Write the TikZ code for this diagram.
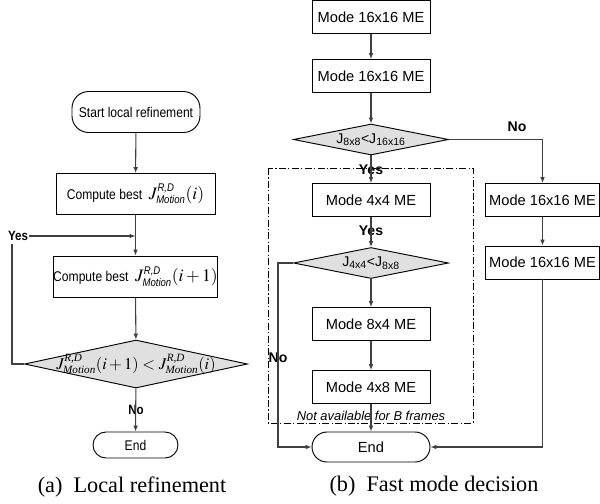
\documentclass[tikz,border=0pt]{standalone}
\usepackage{mathptmx}
\usepackage{fontspec}
\setmainfont{Liberation Serif}
\newfontfamily\arial{Liberation Sans}
\newfontfamily\arialn[FakeStretch=0.86]{Liberation Sans}
\newcommand{\scr}[1]{\mbox{\fontsize{9.5}{10}\selectfont\itshape #1}}
\newcommand{\jmot}[1]{J^{\scr{R,D}}_{\scr{Motion}}(#1)}
\usetikzlibrary{arrows.meta,shapes.geometric}

\begin{document}
\begin{tikzpicture}[x=0.3mm, y=-0.3mm,
    box/.style = {draw, rectangle, line width=0.8pt, inner sep=0pt, font=\arial\fontsize{12.5}{14}\selectfont},
    lbox/.style = {box, minimum width=47.7mm, minimum height=12.3mm, font=\arialn\fontsize{12}{14}\selectfont},
    rbox/.style = {box, minimum width=35.4mm, minimum height=9.9mm},
    term/.style = {box, rounded corners=4.5mm, minimum width=35.4mm, minimum height=9mm},
    test/.style = {draw, diamond, fill=black!12, line width=0.8pt, inner sep=0pt},
    flow/.style = {draw=black!75, line width=0.9pt, -{Latex[length=5pt,width=4pt]}},
    wire/.style = {draw=black!75, line width=0.9pt},
    lbl/.style = {font=\arial\bfseries\fontsize{12}{14}\selectfont, inner sep=1pt},
    note/.style = {font=\arial\itshape\fontsize{11}{13}\selectfont, inner sep=1pt},
    subcap/.style = {font=\fontsize{19}{22}\selectfont}
    ]
    \useasboundingbox (0,0) rectangle (600,503);

    % (a) local refinement
    \node[term, minimum width=38.4mm, minimum height=12.3mm, rounded corners=5mm, font=\arialn\fontsize{12}{14}\selectfont] (start) at (136,112) {Start local refinement};
    \node[lbox] (best1) at (135.5,194) {Compute best\ \ {\fontsize{15}{17}\selectfont$\jmot{i}$}};
    \node[lbox] (best2) at (135.5,276.5) {Compute best\ \ {\fontsize{15}{17}\selectfont$\jmot{i+1}$}};
    \node[test, minimum width=66.9mm, minimum height=14.4mm] (cmp) at (136,364) {};
    \node[font=\fontsize{14}{16}\selectfont, inner sep=0pt] (cmptxt) at (cmp) {$\jmot{i+1} < \jmot{i}$};
    \node[term, minimum width=25.5mm, minimum height=7.8mm, rounded corners=3.9mm, font=\arialn\fontsize{12}{14}\selectfont] (end1) at (135.5,445) {End};

    \node[lbl, font=\arialn\bfseries\fontsize{11.5}{13}\selectfont] (yes1) at (18,236) {Yes};
    \node[lbl, font=\arialn\bfseries\fontsize{11.5}{13}\selectfont] (no1) at (136,410) {No};
    \coordinate (back) at (12,244);

    \draw[flow] (start) -- (best1);
    \draw[flow] (best1) -- (best2);
    \draw[flow] (best2) -- (cmp);
    \draw[flow] (cmp) -- (end1);
    \draw[wire] (cmp.west) -| (back);
    \draw[flow] (yes1.east) -- (best1 |- yes1);

    % (b) fast mode decision
    \node[rbox] (m1) at (371,17) {Mode 16x16 ME};
    \node[rbox] (m2) at (371,76) {Mode 16x16 ME};
    \node[test, minimum width=46.5mm, minimum height=9.3mm] (t1) at (371,139.5) {};
    \node[font=\arial\fontsize{12}{14}\selectfont, inner sep=0pt] (t1txt) at (t1) {J\textsubscript{8x8}<J\textsubscript{16x16}};
    \node[rbox, minimum width=34mm] (m3) at (542.5,200) {Mode 16x16 ME};
    \node[rbox, minimum width=34mm] (m4) at (542.5,262.5) {Mode 16x16 ME};
    \node[rbox] (m5) at (371,200) {Mode 4x4 ME};
    \node[test, minimum width=46.5mm, minimum height=9.3mm] (t2) at (371,263) {};
    \node[font=\arial\fontsize{12}{14}\selectfont, inner sep=0pt] (t2txt) at (t2) {J\textsubscript{4x4}<J\textsubscript{8x8}};
    \node[rbox] (m6) at (371,324) {Mode 8x4 ME};
    \node[rbox] (m7) at (371,387) {Mode 4x8 ME};
    \node[term] (end2) at (371,447) {End};

    \draw[line width=0.6pt, dash pattern=on 6pt off 2pt on 1pt off 2pt] (268,168) rectangle (473,423);
    \node[note] (nab) at (371,416) {Not available for B frames};

    \node[lbl] (yes2) at (371,170) {Yes};
    \node[lbl] (yes3) at (371,231) {Yes};
    \node[lbl] (no2) at (517,127) {No};
    \node[lbl] (no3) at (278,358) {No};
    \coordinate (c3) at (278,447);

    \draw[flow] (m1) -- (m2);
    \draw[flow] (m2) -- (t1);
    \draw[flow] (t1) -- (m5);
    \draw[flow] (m5) -- (t2);
    \draw[flow] (t2) -- (m6);
    \draw[flow] (m6) -- (m7);
    \draw[flow] (m7) -- (end2);
    \draw[flow] (t1.east) -| (m3);
    \draw[flow] (m3) -- (m4);
    \draw[flow] (m4) |- (end2);
    \draw[flow] (t2.west) -| (c3) -- (end2);

    \node[subcap] (capa) at (132,487) {(a)\enspace Local refinement};
    \node[subcap] (capb) at (434,486) {(b)\enspace Fast mode decision};
\end{tikzpicture}
\end{document}
